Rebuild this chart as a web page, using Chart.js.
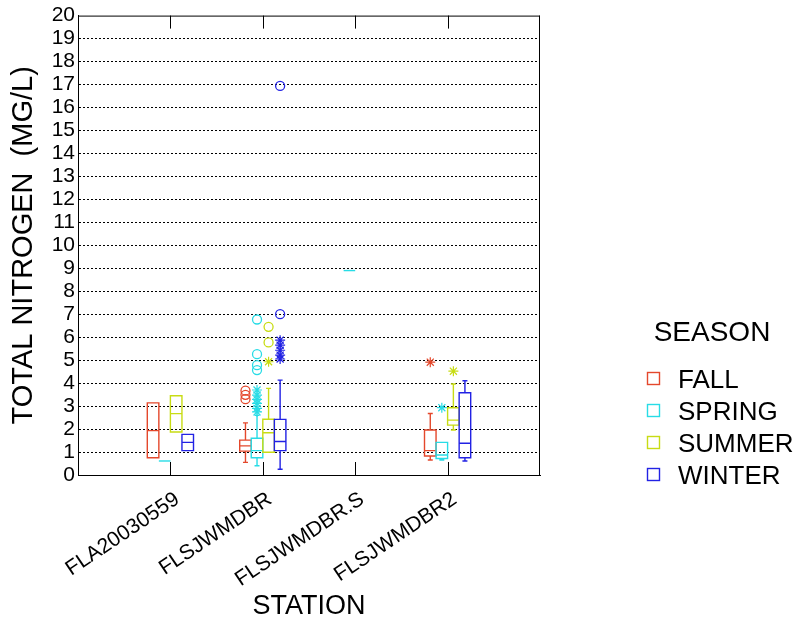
<!DOCTYPE html>
<html><head><meta charset="utf-8">
<script src="https://cdn.jsdelivr.net/npm/chart.js@4.4.0/dist/chart.umd.min.js"></script>
<style>html,body{margin:0;padding:0;background:#fff}</style>
</head><body>
<canvas id="c" width="804" height="624"></canvas>
<script>
// ---------------- data ----------------
const stations = ['FLA20030559', 'FLSJWMDBR', 'FLSJWMDBR.S', 'FLSJWMDBR2'];
const seasons = ['FALL', 'SPRING', 'SUMMER', 'WINTER'];
const yTickValues = [0,1,2,3,4,5,6,7,8,9,10,11,12,13,14,15,16,17,18,19,20];

// box statistics per station (null = no data / no whisker)
const fallLo    = [null, 0.55, null, 0.65];
const fallQ1    = [0.75, 1.04, null, 0.83];
const fallMed   = [1.93, 1.27, null, 1.06];
const fallQ3    = [3.14, 1.52, null, 1.96];
const fallHi    = [null, 2.27, null, 2.68];

const springLo  = [null, 0.40, null, 0.65];
const springQ1  = [0.61, 0.75, 8.90, 0.72];
const springMed = [0.61, 1.06, 8.90, 0.87];
const springQ3  = [0.61, 1.60, 8.90, 1.42];
const springHi  = [null, 2.60, null, null];

const summerLo  = [null, null, null, 1.96];
const summerQ1  = [1.87, 0.99, null, 2.17];
const summerMed = [2.67, 1.84, null, 2.39];
const summerQ3  = [3.45, 2.43, null, 2.93];
const summerHi  = [null, 3.77, null, 3.96];

const winterLo  = [null, 0.25, null, 0.61];
const winterQ1  = [1.06, 1.06, null, 0.75];
const winterMed = [1.42, 1.46, null, 1.38];
const winterQ3  = [1.77, 2.42, null, 3.58];
const winterHi  = [null, 4.13, null, 4.10];

// outside values (asterisks) and far-out values (circles), per station
const fallNear   = [[], [], [], [4.91]];
const fallFar    = [[], [3.67, 3.49, 3.30], [], []];
const springNear = [[], [3.70, 3.48, 3.29, 3.12, 2.90, 2.75], [], [2.93]];
const springFar  = [[], [6.77, 5.26, 4.78, 4.57], [], []];
const summerNear = [[], [4.93], [], [4.52]];
const summerFar  = [[], [6.45, 5.77], [], []];
const winterNear = [[], [5.87, 5.65, 5.43, 5.22, 5.05], [], []];
const winterFar  = [[], [7.00, 16.94], [], []];

// ---------------- styling ----------------
const FONT = "'Liberation Sans', Arial, Helvetica, sans-serif";
const seasonColors = ['#e4482c', '#28dce6', '#c8dc14', '#2222e4'];
const DODGE = [-0.1875, -0.0625, 0.0625, 0.1875];
const HALF = 0.0625;

const stats = [
  {lo: fallLo, q1: fallQ1, med: fallMed, q3: fallQ3, hi: fallHi, near: fallNear, far: fallFar},
  {lo: springLo, q1: springQ1, med: springMed, q3: springQ3, hi: springHi, near: springNear, far: springFar},
  {lo: summerLo, q1: summerQ1, med: summerMed, q3: summerQ3, hi: summerHi, near: summerNear, far: summerFar},
  {lo: winterLo, q1: winterQ1, med: winterMed, q3: winterQ3, hi: winterHi, near: winterNear, far: winterFar}
];

const datasets = [];
stats.forEach((s, k) => {
  const near = [], far = [];
  stations.forEach((st, i) => {
    s.near[i].forEach(v => near.push({x: i + 1 + DODGE[k], y: v}));
    s.far[i].forEach(v => far.push({x: i + 1 + DODGE[k], y: v}));
  });
  datasets.push({label: seasons[k] + ' outside', data: near, pointStyle: 'star', radius: 5,
    borderColor: seasonColors[k], backgroundColor: 'rgba(0,0,0,0)', borderWidth: 1.2, showLine: false});
  datasets.push({label: seasons[k] + ' far out', data: far, pointStyle: 'circle', radius: 4.5,
    borderColor: seasonColors[k], backgroundColor: 'rgba(0,0,0,0)', borderWidth: 1.3, showLine: false});
});

const boxPlugin = {
  id: 'boxes',
  beforeDatasetsDraw(chart) {
    const {ctx, scales: {x, y}} = chart;
    ctx.save();
    ctx.lineWidth = 1.4;
    stats.forEach((s, k) => {
      ctx.strokeStyle = seasonColors[k];
      stations.forEach((st, i) => {
        if (s.q1[i] == null) return;
        const c = i + 1 + DODGE[k];
        const xl = x.getPixelForValue(c - HALF), xr = x.getPixelForValue(c + HALF), xc = x.getPixelForValue(c);
        const y1 = y.getPixelForValue(s.q1[i]), ym = y.getPixelForValue(s.med[i]), y3 = y.getPixelForValue(s.q3[i]);
        ctx.beginPath();
        if (s.q3[i] > s.q1[i]) {
          ctx.rect(xl, y3, xr - xl, y1 - y3);
        }
        ctx.moveTo(xl, ym); ctx.lineTo(xr, ym);
        if (s.hi[i] != null && s.hi[i] > s.q3[i]) {
          const yh = y.getPixelForValue(s.hi[i]);
          ctx.moveTo(xc, y3); ctx.lineTo(xc, yh);
          ctx.moveTo(xc - 2.5, yh); ctx.lineTo(xc + 2.5, yh);
        }
        if (s.lo[i] != null && s.lo[i] < s.q1[i]) {
          const yl = y.getPixelForValue(s.lo[i]);
          ctx.moveTo(xc, y1); ctx.lineTo(xc, yl);
          ctx.moveTo(xc - 2.5, yl); ctx.lineTo(xc + 2.5, yl);
        }
        ctx.stroke();
      });
    });
    ctx.restore();
  }
};

const framePlugin = {
  id: 'frame',
  afterDraw(chart) {
    const {ctx, chartArea: a, scales: {x}} = chart;
    ctx.save();
    ctx.strokeStyle = '#000';
    ctx.lineWidth = 1;
    ctx.beginPath();
    ctx.moveTo(a.left, a.top + 0.5); ctx.lineTo(a.right, a.top + 0.5);
    ctx.moveTo(a.right - 0.5, a.top); ctx.lineTo(a.right - 0.5, a.bottom);
    stations.forEach((st, i) => {
      const px = Math.round(x.getPixelForValue(i + 1)) + 0.5;
      ctx.moveTo(px, a.top); ctx.lineTo(px, a.top + 13);
      ctx.moveTo(px, a.bottom); ctx.lineTo(px, a.bottom - 13);
    });
    ctx.stroke();

    // legend
    ctx.fillStyle = '#000';
    ctx.textBaseline = 'middle';
    ctx.textAlign = 'center';
    ctx.font = '28px ' + FONT;
    ctx.fillText('SEASON', 712, 333);
    ctx.textAlign = 'left';
    ctx.font = '26px ' + FONT;
    const rows = [379, 411, 443, 475];
    seasons.forEach((s, k) => {
      ctx.strokeStyle = seasonColors[k];
      ctx.lineWidth = 1.4;
      ctx.strokeRect(647.5, rows[k] - 6.5, 12, 12);
      ctx.fillStyle = '#000';
      ctx.fillText(s, 678, rows[k] + 2);
    });
    ctx.restore();
  }
};

new Chart(document.getElementById('c'), {
  type: 'scatter',
  data: {datasets},
  options: {
    responsive: false,
    animation: false,
    layout: {padding: {left: 0, right: 264, top: 15, bottom: 0}},
    plugins: {legend: {display: false}, tooltip: {enabled: false}},
    scales: {
      x: {
        type: 'linear', min: 0, max: 5,
        afterFit: s => { s.height = 149; },
        afterBuildTicks: s => { s.ticks = [0,1,2,3,4,5].map(v => ({value: v})); },
        grid: {display: false, drawTicks: false},
        border: {display: true, color: '#000', width: 1},
        ticks: {
          autoSkip: false, maxRotation: 34, minRotation: 34, padding: 12, labelOffset: 7,
          color: '#000', font: {family: FONT, size: 21},
          callback: v => stations[v - 1] || ''
        },
        title: {display: true, text: 'STATION', color: '#000', font: {family: FONT, size: 27}, padding: {top: 0, bottom: 1}}
      },
      y: {
        min: 0, max: 20,
        afterFit: s => { s.width = 78; },
        afterBuildTicks: s => { s.ticks = yTickValues.map(v => ({value: v})); },
        grid: {
          drawTicks: false, lineWidth: 1,
          color: c => (c.tick && (c.tick.value === 0 || c.tick.value === 20)) ? 'rgba(0,0,0,0)' : '#000'
        },
        border: {display: true, color: '#000', width: 1, dash: [2, 2]},
        ticks: {autoSkip: false, padding: 3, color: '#000', font: {family: FONT, size: 21}},
        title: {display: true, text: 'TOTAL NITROGEN  (MG/L)', color: '#000', font: {family: FONT, size: 29}, padding: {top: 7, bottom: 0}}
      }
    }
  },
  plugins: [boxPlugin, framePlugin]
});
</script>
</body></html>
